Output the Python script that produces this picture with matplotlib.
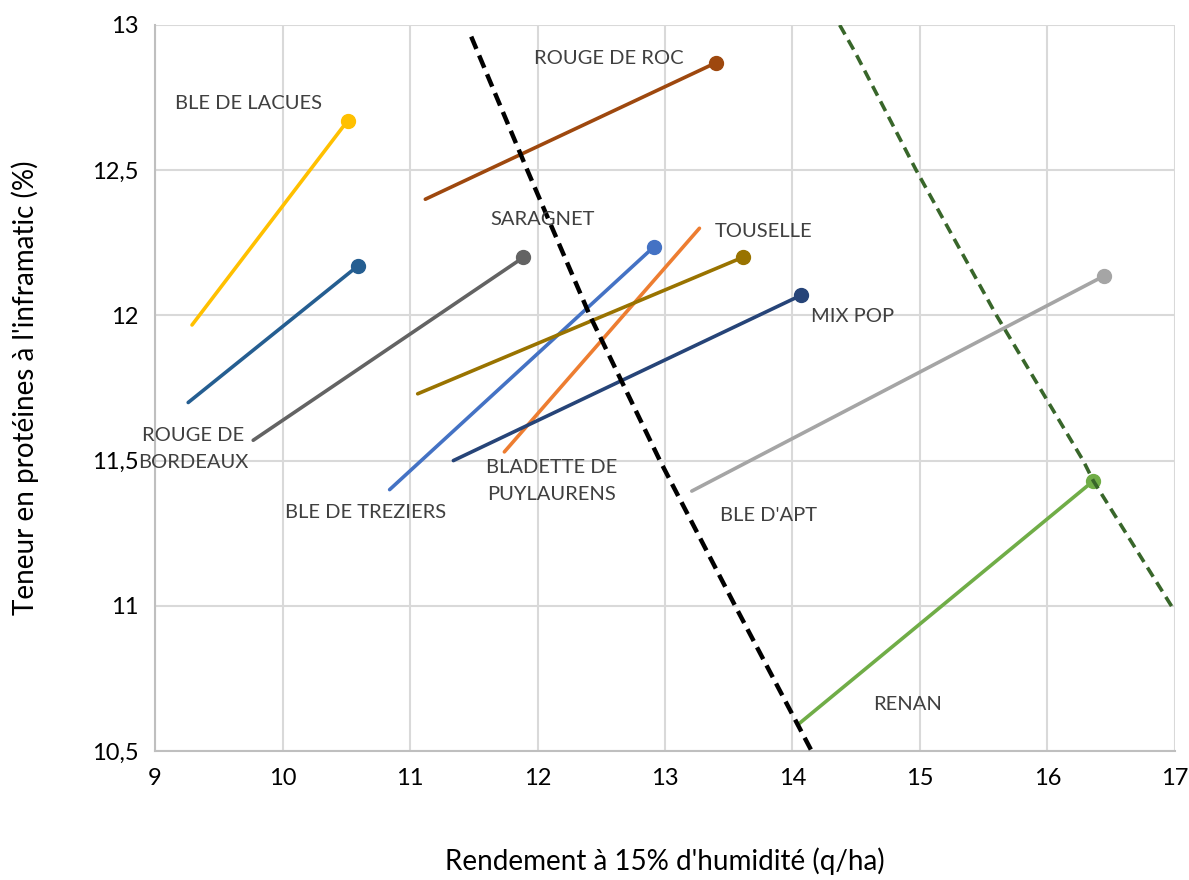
import matplotlib
matplotlib.use("Agg")
from matplotlib import pyplot as plt
from matplotlib.ticker import FuncFormatter

plt.rcParams['font.family'] = ['Lato', 'DejaVu Sans']

# varieties: start point (no marker) -> end point (marker)
names = ["BLE DE LACUES", "ROUGE DE BORDEAUX", "ROUGE DE ROC", "SARAGNET",
         "BLE DE TREZIERS", "BLADETTE DE PUYLAURENS", "TOUSELLE", "MIX POP",
         "BLE D'APT", "RENAN"]
x_start = [9.29, 9.26, 11.12, 9.77, 10.84, 11.74, 11.06, 11.34, 13.21, 14.04]
y_start = [11.967, 11.70, 12.40, 11.57, 11.40, 11.53, 11.73, 11.50, 11.395, 10.59]
x_end = [10.51, 10.59, 13.40, 11.89, 12.91, 13.27, 13.61, 14.07, 16.44, 16.36]
y_end = [12.67, 12.17, 12.87, 12.20, 12.235, 12.30, 12.20, 12.07, 12.135, 11.43]
has_marker = [True, True, True, True, True, False, True, True, True, True]
colors = ["#FFC000", "#255E91", "#9E480E", "#636363", "#4472C4", "#ED7D31",
          "#997300", "#264478", "#A5A5A5", "#70AD47"]

# label text and anchor (data coords)
label_text = ["BLE DE LACUES", "ROUGE DE\nBORDEAUX", "ROUGE DE ROC", "SARAGNET",
              "BLE DE TREZIERS", "BLADETTE DE\nPUYLAURENS", "TOUSELLE", "MIX POP",
              "BLE D'APT", "RENAN"]
label_x = [9.73, 9.30, 12.56, 12.04, 10.65, 12.11, 13.77, 14.47, 13.81, 14.90]
label_y = [12.73, 11.54, 12.886, 12.33, 11.32, 11.43, 12.29, 11.995, 11.31, 10.66]

# dashed iso-curves
black_x = [11.48, 11.92, 12.41, 12.96, 13.55, 14.15]
black_y = [12.96, 12.5, 12.0, 11.5, 11.0, 10.5]
green_x = [14.37, 14.49, 14.97, 15.60, 16.28, 16.36, 17.0]
green_y = [13.0, 12.907, 12.5, 12.0, 11.5, 11.43, 10.98]

fig = plt.figure(figsize=(11.89, 8.8), dpi=100)
ax = fig.add_axes([0.1304, 0.1466, 0.8578, 0.825])

ax.plot(black_x, black_y, color="black", lw=3.2, dashes=(3, 1.6), zorder=4)
ax.plot(green_x, green_y, color="#38662A", lw=2.6, dashes=(3, 1.8), zorder=4)

for i in range(len(names)):
    ax.plot([x_start[i], x_end[i]], [y_start[i], y_end[i]], color=colors[i],
            lw=2.6, solid_capstyle="round", zorder=3)
    if has_marker[i]:
        ax.plot(x_end[i], y_end[i], "o", color=colors[i], ms=10, zorder=3)

for i in range(len(label_text)):
    ax.text(label_x[i], label_y[i], label_text[i], ha="center", va="center",
            fontsize=14.5, color="#404040", linespacing=1.75, zorder=5)

ax.set_xlim(9, 17)
ax.set_ylim(10.5, 13)
ax.set_xticks(range(9, 18))
ax.set_yticks([10.5, 11, 11.5, 12, 12.5, 13])
ax.yaxis.set_major_formatter(FuncFormatter(lambda v, p: ("%g" % v).replace(".", ",")))
ax.tick_params(length=0, labelsize=17, pad=12)
ax.grid(True, color="#D9D9D9", lw=1.5)
ax.set_axisbelow(True)
for s in ["top", "right"]:
    ax.spines[s].set_visible(False)
for s in ["left", "bottom"]:
    ax.spines[s].set_color("#BFBFBF")
    ax.spines[s].set_linewidth(1.5)

ax.set_xlabel("Rendement à 15% d'humidité (q/ha)", fontsize=20, labelpad=42)
ax.set_ylabel("Teneur en protéines à l'inframatic (%)", fontsize=20, labelpad=38)

fig.savefig("out.png", dpi=100)
